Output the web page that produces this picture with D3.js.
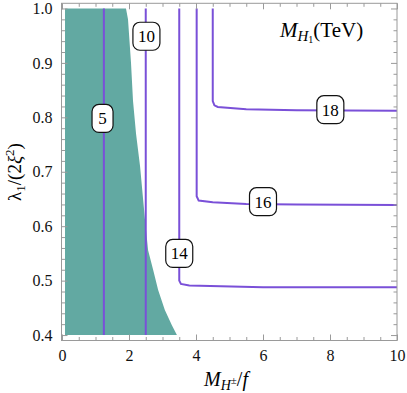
<!DOCTYPE html>
<html>
<head>
<meta charset="utf-8">
<script src="https://cdn.jsdelivr.net/npm/d3@7"></script>
<style>
body { margin: 0; background: #fff; }
svg text { font-family: "Liberation Serif", "Times New Roman", serif; }
</style>
</head>
<body>
<svg id="chart"></svg>
<script>
var width = 407,
    height = 393;

// data
var xMajor = [0, 2, 4, 6, 8, 10];
var yMajor = [0.4, 0.5, 0.6, 0.7, 0.8, 0.9, 1.0];
var yTickLabels = ['0.4', '0.5', '0.6', '0.7', '0.8', '0.9', '1.0'];

// excluded (teal) region boundary
var excluded = [[0.09, 1.0], [1.91, 1.0], [1.97, 0.98], [2.06, 0.90], [2.12, 0.83], [2.21, 0.77],
    [2.33, 0.71], [2.42, 0.65], [2.48, 0.61], [2.57, 0.556], [2.72, 0.52], [2.87, 0.483],
    [3.07, 0.446], [3.28, 0.418], [3.43, 0.40], [0.09, 0.40]];

var contours = [
    { level: 5, points: [[1.25, 1.0], [1.25, 0.4]], label: [1.21, 0.798] },
    { level: 10, points: [[2.5, 1.0], [2.5, 0.4]], label: [2.52, 0.949] },
    { level: 14, points: [[3.5, 1.0], [3.5, 0.50], [3.55, 0.494], [3.8, 0.491], [6, 0.488], [10, 0.488]], label: [3.5, 0.55] },
    { level: 16, points: [[4.02, 1.0], [4.02, 0.655], [4.08, 0.647], [4.5, 0.644], [5.5, 0.641], [7, 0.64], [10, 0.639]], label: [6.0, 0.645] },
    { level: 18, points: [[4.5, 1.0], [4.5, 0.83], [4.55, 0.822], [4.65, 0.819], [5.5, 0.815], [7, 0.813], [10, 0.812]], label: [8.01, 0.814] }
];

var svg = d3.select('svg#chart')
    .attr('width', width)
    .attr('height', height);

var x = d3.scaleLinear().domain([-0.015, 10]).range([61.5, 397]);
var y = d3.scaleLinear().domain([0.39, 1.0095]).range([340.5, 3.3]);

var line = d3.line()
    .x(function (d) { return x(d[0]); })
    .y(function (d) { return y(d[1]); });

svg.append('path')
    .attr('d', line(excluded) + 'Z')
    .attr('fill', '#62a9a2');

svg.selectAll('path.contour')
    .data(contours)
    .enter().append('path')
    .attr('class', 'contour')
    .attr('d', function (d) { return line(d.points); })
    .attr('fill', 'none')
    .attr('stroke', '#7a50d8')
    .attr('stroke-width', 2);

// contour labels
var labels = svg.selectAll('g.clabel')
    .data(contours)
    .enter().append('g')
    .attr('class', 'clabel')
    .attr('transform', function (d) { return 'translate(' + x(d.label[0]) + ',' + y(d.label[1]) + ')'; });

labels.append('rect')
    .attr('x', function (d) { return d.level < 10 ? -10.5 : -13.5; })
    .attr('y', -14)
    .attr('width', function (d) { return d.level < 10 ? 21 : 27; })
    .attr('height', 28)
    .attr('rx', 7)
    .attr('fill', 'white')
    .attr('stroke', '#111')
    .attr('stroke-width', 1.2);

labels.append('text')
    .attr('text-anchor', 'middle')
    .attr('y', 6)
    .attr('font-size', 17)
    .text(function (d) { return d.level; });

// frame
svg.append('rect')
    .attr('x', 61.5)
    .attr('y', 3.3)
    .attr('width', 397 - 61.5)
    .attr('height', 340.5 - 3.3)
    .attr('fill', 'none')
    .attr('stroke', '#9a9a9a')
    .attr('stroke-width', 1);

var xMinor = d3.range(0, 10.01, 0.5).filter(function (v) { return v % 2 !== 0; });
var yMinor = d3.range(0.4, 1.001, 0.02).filter(function (v) { return Math.abs(v * 10 - Math.round(v * 10)) > 0.01; });

function tickAxis(axis, tickValues, size, labels) {
    return axis.tickValues(tickValues).tickSizeInner(-size).tickSizeOuter(0)
        .tickPadding(labels ? 9 : 0)
        .tickFormat(labels ? labels : function () { return ''; });
}

function drawAxis(axis, tx, ty) {
    var g = svg.append('g').attr('transform', 'translate(' + tx + ',' + ty + ')').call(axis);
    g.select('.domain').remove();
    g.selectAll('line').attr('stroke', '#9a9a9a');
    g.selectAll('text')
        .style('font-family', '"Liberation Serif", "Times New Roman", serif')
        .style('font-size', '16px')
        .attr('fill', '#111');
    return g;
}

drawAxis(tickAxis(d3.axisBottom(x), xMajor, 6, function (d) { return d; }), 0, 340.5);
drawAxis(tickAxis(d3.axisBottom(x), xMinor, 3.5), 0, 340.5);
drawAxis(tickAxis(d3.axisTop(x), xMajor, 6), 0, 3.3);
drawAxis(tickAxis(d3.axisTop(x), xMinor, 3.5), 0, 3.3);
drawAxis(tickAxis(d3.axisLeft(y), yMajor, 6, function (d, i) { return yTickLabels[i]; }), 61.5, 0);
drawAxis(tickAxis(d3.axisLeft(y), yMinor, 3.5), 61.5, 0);
drawAxis(tickAxis(d3.axisRight(y), yMajor, 6), 397, 0);
drawAxis(tickAxis(d3.axisRight(y), yMinor, 3.5), 397, 0);

// axis titles
var xTitle = svg.append('text')
    .attr('x', 226)
    .attr('y', 386)
    .attr('text-anchor', 'middle')
    .attr('font-size', 20);
xTitle.append('tspan').attr('font-style', 'italic').text('M');
xTitle.append('tspan').attr('font-style', 'italic').attr('font-size', 14).attr('dy', 4).text('H');
xTitle.append('tspan').attr('font-size', 11).attr('dy', -6).text('±');
xTitle.append('tspan').attr('dy', 2).text('/');
xTitle.append('tspan').attr('font-style', 'italic').text('f');

var yTitle = svg.append('text')
    .attr('transform', 'translate(21,172) rotate(-90)')
    .attr('text-anchor', 'middle')
    .attr('font-size', 19);
yTitle.append('tspan').text('λ');
yTitle.append('tspan').attr('font-size', 13).attr('dy', 4).text('1');
yTitle.append('tspan').attr('dy', -4).text('/(2');
yTitle.append('tspan').attr('font-style', 'italic').text('ξ');
yTitle.append('tspan').attr('font-size', 13).attr('dy', -7).text('2');
yTitle.append('tspan').attr('dy', 7).text(')');

var title = svg.append('text')
    .attr('x', 280)
    .attr('y', 37)
    .attr('font-size', 21);
title.append('tspan').attr('font-style', 'italic').text('M');
title.append('tspan').attr('font-style', 'italic').attr('font-size', 15).attr('dy', 4).text('H');
title.append('tspan').attr('font-size', 10).attr('dy', 2).text('1');
title.append('tspan').attr('dy', -6).text('(TeV)');
</script>
</body>
</html>
